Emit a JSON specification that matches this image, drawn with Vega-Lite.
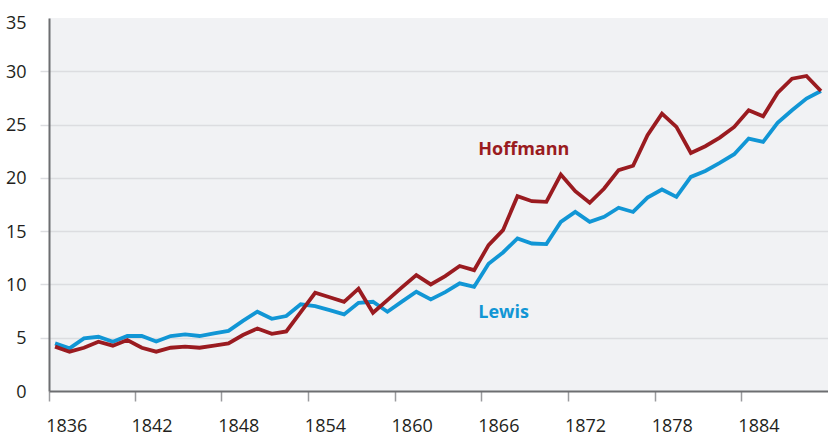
{
  "$schema": "https://vega.github.io/schema/vega-lite/v6.json",
  "width": 779,
  "height": 373,
  "autosize": "none",
  "padding": {"left": 49, "top": 18, "right": 0, "bottom": 44},
  "background": "#ffffff",
  "config": {
    "view": {"fill": "#f1f2f4", "stroke": null},
    "font": "Open Sans"
  },
  "datasets": {
    "series": [
      {"year":1836,"series":"Lewis","value":4.47},{"year":1837,"series":"Lewis","value":4.0},{"year":1838,"series":"Lewis","value":4.94},{"year":1839,"series":"Lewis","value":5.09},{"year":1840,"series":"Lewis","value":4.62},{"year":1841,"series":"Lewis","value":5.16},{"year":1842,"series":"Lewis","value":5.16},{"year":1843,"series":"Lewis","value":4.65},{"year":1844,"series":"Lewis","value":5.16},{"year":1845,"series":"Lewis","value":5.31},{"year":1846,"series":"Lewis","value":5.16},{"year":1847,"series":"Lewis","value":5.41},{"year":1848,"series":"Lewis","value":5.64},{"year":1849,"series":"Lewis","value":6.58},{"year":1850,"series":"Lewis","value":7.44},{"year":1851,"series":"Lewis","value":6.78},{"year":1852,"series":"Lewis","value":7.03},{"year":1853,"series":"Lewis","value":8.14},{"year":1854,"series":"Lewis","value":7.97},{"year":1855,"series":"Lewis","value":7.59},{"year":1856,"series":"Lewis","value":7.19},{"year":1857,"series":"Lewis","value":8.28},{"year":1858,"series":"Lewis","value":8.37},{"year":1859,"series":"Lewis","value":7.44},{"year":1860,"series":"Lewis","value":8.39},{"year":1861,"series":"Lewis","value":9.31},{"year":1862,"series":"Lewis","value":8.6},{"year":1863,"series":"Lewis","value":9.28},{"year":1864,"series":"Lewis","value":10.1},{"year":1865,"series":"Lewis","value":9.78},{"year":1866,"series":"Lewis","value":11.93},{"year":1867,"series":"Lewis","value":13.0},{"year":1868,"series":"Lewis","value":14.31},{"year":1869,"series":"Lewis","value":13.84},{"year":1870,"series":"Lewis","value":13.78},{"year":1871,"series":"Lewis","value":15.87},{"year":1872,"series":"Lewis","value":16.81},{"year":1873,"series":"Lewis","value":15.87},{"year":1874,"series":"Lewis","value":16.34},{"year":1875,"series":"Lewis","value":17.2},{"year":1876,"series":"Lewis","value":16.8},{"year":1877,"series":"Lewis","value":18.15},{"year":1878,"series":"Lewis","value":18.91},{"year":1879,"series":"Lewis","value":18.22},{"year":1880,"series":"Lewis","value":20.09},{"year":1881,"series":"Lewis","value":20.65},{"year":1882,"series":"Lewis","value":21.4},{"year":1883,"series":"Lewis","value":22.22},{"year":1884,"series":"Lewis","value":23.69},{"year":1885,"series":"Lewis","value":23.38},{"year":1886,"series":"Lewis","value":25.16},{"year":1887,"series":"Lewis","value":26.34},{"year":1888,"series":"Lewis","value":27.44},{"year":1889,"series":"Lewis","value":28.15},
      {"year":1836,"series":"Hoffmann","value":4.16},{"year":1837,"series":"Hoffmann","value":3.69},{"year":1838,"series":"Hoffmann","value":4.06},{"year":1839,"series":"Hoffmann","value":4.62},{"year":1840,"series":"Hoffmann","value":4.25},{"year":1841,"series":"Hoffmann","value":4.78},{"year":1842,"series":"Hoffmann","value":4.06},{"year":1843,"series":"Hoffmann","value":3.69},{"year":1844,"series":"Hoffmann","value":4.06},{"year":1845,"series":"Hoffmann","value":4.16},{"year":1846,"series":"Hoffmann","value":4.06},{"year":1847,"series":"Hoffmann","value":4.25},{"year":1848,"series":"Hoffmann","value":4.47},{"year":1849,"series":"Hoffmann","value":5.25},{"year":1850,"series":"Hoffmann","value":5.87},{"year":1851,"series":"Hoffmann","value":5.36},{"year":1852,"series":"Hoffmann","value":5.59},{"year":1853,"series":"Hoffmann","value":7.4},{"year":1854,"series":"Hoffmann","value":9.22},{"year":1855,"series":"Hoffmann","value":8.8},{"year":1856,"series":"Hoffmann","value":8.37},{"year":1857,"series":"Hoffmann","value":9.6},{"year":1858,"series":"Hoffmann","value":7.34},{"year":1859,"series":"Hoffmann","value":8.53},{"year":1860,"series":"Hoffmann","value":9.72},{"year":1861,"series":"Hoffmann","value":10.87},{"year":1862,"series":"Hoffmann","value":10.0},{"year":1863,"series":"Hoffmann","value":10.78},{"year":1864,"series":"Hoffmann","value":11.73},{"year":1865,"series":"Hoffmann","value":11.34},{"year":1866,"series":"Hoffmann","value":13.69},{"year":1867,"series":"Hoffmann","value":15.09},{"year":1868,"series":"Hoffmann","value":18.28},{"year":1869,"series":"Hoffmann","value":17.81},{"year":1870,"series":"Hoffmann","value":17.75},{"year":1871,"series":"Hoffmann","value":20.31},{"year":1872,"series":"Hoffmann","value":18.75},{"year":1873,"series":"Hoffmann","value":17.66},{"year":1874,"series":"Hoffmann","value":19.0},{"year":1875,"series":"Hoffmann","value":20.72},{"year":1876,"series":"Hoffmann","value":21.14},{"year":1877,"series":"Hoffmann","value":24.0},{"year":1878,"series":"Hoffmann","value":26.03},{"year":1879,"series":"Hoffmann","value":24.78},{"year":1880,"series":"Hoffmann","value":22.34},{"year":1881,"series":"Hoffmann","value":22.97},{"year":1882,"series":"Hoffmann","value":23.78},{"year":1883,"series":"Hoffmann","value":24.78},{"year":1884,"series":"Hoffmann","value":26.34},{"year":1885,"series":"Hoffmann","value":25.78},{"year":1886,"series":"Hoffmann","value":27.97},{"year":1887,"series":"Hoffmann","value":29.31},{"year":1888,"series":"Hoffmann","value":29.56},{"year":1889,"series":"Hoffmann","value":28.15}
    ],
    "labels": [
      {"year": 1865.29, "value": 22.62, "series": "Hoffmann"},
      {"year": 1865.29, "value": 7.3, "series": "Lewis"}
    ]
  },
  "layer": [
    {
      "data": {"name": "series"},
      "mark": {"type": "line", "strokeWidth": 3.8, "strokeJoin": "miter"},
      "encoding": {
        "x": {
          "field": "year", "type": "quantitative",
          "scale": {"domain": [1835.58, 1889.49], "nice": false, "zero": false},
          "axis": {
            "title": null,
            "values": [1835.6, 1841.5, 1847.5, 1853.5, 1859.5, 1865.5, 1871.5, 1877.5, 1883.5],
            "labelExpr": "toString(round(datum.value + 0.5))",
            "labelOffset": 17,
            "labelAlign": "center",
            "labelFlush": false,
            "labelBound": false,
            "labelOverlap": false,
            "labelFont": "Open Sans",
            "labelFontSize": 18,
            "labelColor": "#231f20",
            "labelBaseline": "top",
            "labelPadding": 16,
            "grid": false,
            "domainColor": "#6d6e71",
            "domainWidth": 2,
            "tickColor": "#9a9b9e",
            "tickWidth": 1.5,
            "tickSize": 10
          }
        },
        "y": {
          "field": "value", "type": "quantitative",
          "scale": {"domain": [0, 35], "nice": false, "zero": true},
          "axis": {
            "title": null,
            "values": [0, 5, 10, 15, 20, 25, 30, 35],
            "ticks": true,
            "tickSize": 9,
            "tickWidth": 1.5,
            "tickColor": {"condition": {"test": "datum.value == 35 || datum.value == 0", "value": "rgba(0,0,0,0)"}, "value": "#dcdde0"},
            "labelPadding": 14,
            "labelFont": "Open Sans",
            "labelFontSize": 18,
            "labelColor": "#231f20",
            "labelFlush": false,
            "labelOffset": {"condition": {"test": "datum.value == 35", "value": 5}, "value": 1},
            "grid": true,
            "gridColor": "#dcdde0",
            "gridWidth": 1.5,
            "gridOpacity": {"condition": {"test": "datum.value == 35 || datum.value == 0", "value": 0}, "value": 1},
            "domainColor": "#6d6e71",
            "domainWidth": 2
          }
        },
        "color": {
          "field": "series", "type": "nominal",
          "scale": {"domain": ["Lewis", "Hoffmann"], "range": ["#1196d5", "#9a1b20"]},
          "legend": null
        },
        "order": {"field": "year"}
      }
    },
    {
      "data": {"name": "labels"},
      "mark": {"type": "text", "align": "left", "baseline": "middle", "font": "Open Sans", "fontSize": 18, "fontWeight": "bold"},
      "encoding": {
        "x": {"field": "year", "type": "quantitative"},
        "y": {"field": "value", "type": "quantitative"},
        "text": {"field": "series"},
        "color": {"field": "series", "type": "nominal", "legend": null}
      }
    }
  ]
}
